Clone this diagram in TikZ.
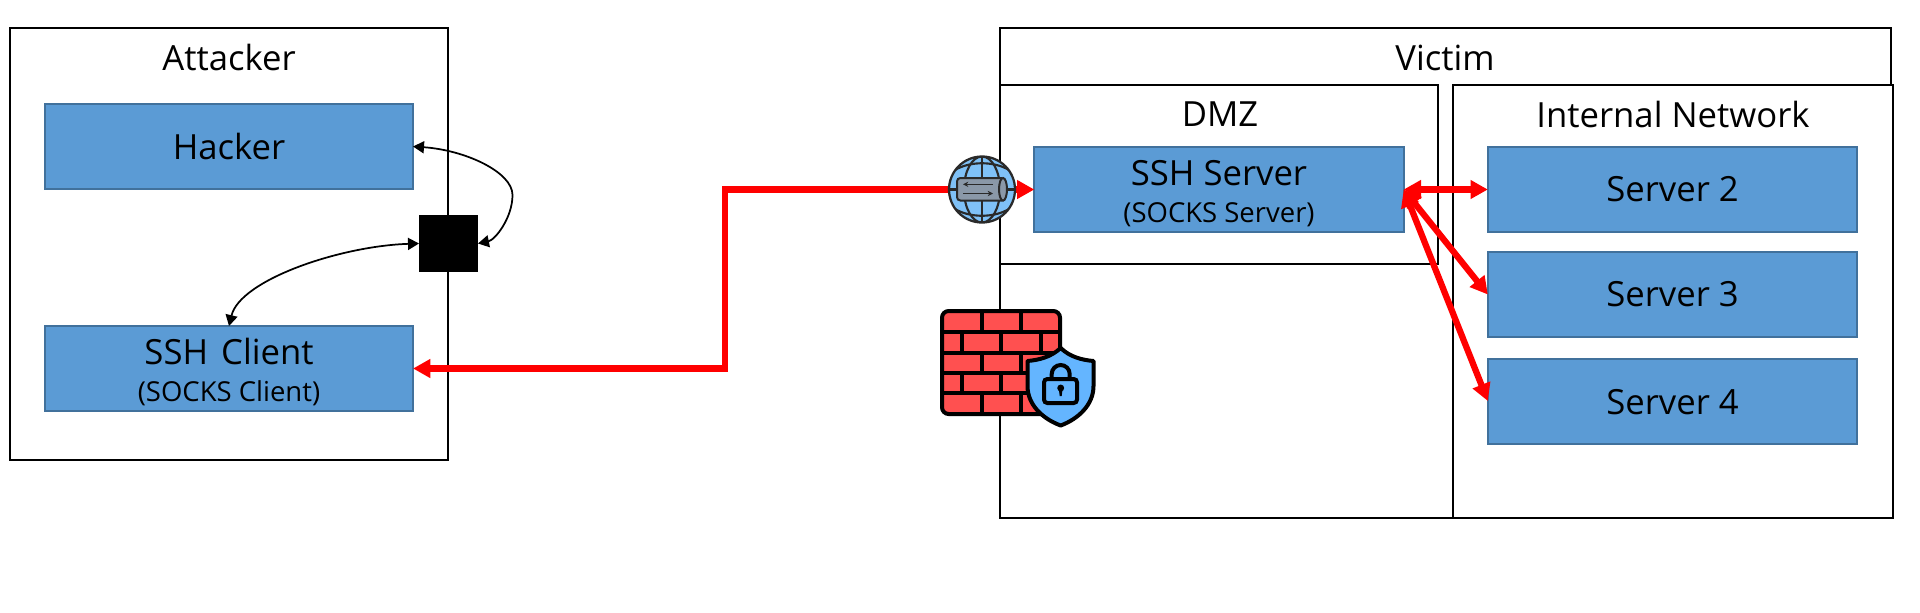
\documentclass[tikz,border=0pt]{standalone}
\usepackage{fontspec}
\setmainfont{Open Sans}
\usetikzlibrary{arrows.meta}
\definecolor{boxblue}{HTML}{5B9BD5}
\definecolor{boxline}{HTML}{41719C}
\definecolor{brick}{HTML}{FF5050}
\definecolor{shieldblue}{HTML}{64B5FF}
\definecolor{globeblue}{HTML}{7FC1F7}
\definecolor{tunnel}{HTML}{8A98A8}
\definecolor{icondark}{HTML}{2A2A2A}
\newcommand{\bigtxt}{\fontsize{26}{30}\selectfont}
\newcommand{\smalltxt}{\fontsize{20.6}{24}\selectfont}
\newcommand{\lowline}{\rule{0pt}{24.5pt}}
\newcommand{\lowsrv}{\rule{0pt}{20.6pt}}
\tikzset{
  x=0.75pt,y=-0.75pt,
  container/.style={draw=black,line width=2.2pt,fill=white,outer sep=0pt,inner sep=0pt},
  bluebox/.style={draw=boxline,line width=1.5pt,fill=boxblue,outer sep=0pt,inner sep=0pt,minimum width=277pt,minimum height=63.75pt,align=center,text=black,font=\bigtxt},
  title/.style={inner sep=0pt,font=\bigtxt,text=black},
  redlink/.style={draw=red,line width=4.7pt,{Triangle[length=13pt,width=13.5pt]}-{Triangle[length=13pt,width=13.5pt]}},
  blacklink/.style={draw=black,line width=1.3pt,{Triangle[length=8.25pt,width=9pt]}-{Triangle[length=8.25pt,width=9pt]}},
  mortar/.style={draw=black,line width=3pt},
  globeline/.style={draw=icondark,line width=1.6pt},
}
\begin{document}
\begin{tikzpicture}
\useasboundingbox (0,0) rectangle (1920,612);
\fill[white] (0,0) rectangle (1920,612);
% containers
\node[container,minimum width=328.5pt,minimum height=324pt] (attacker) at (229,244) {};
\node[container,minimum width=668.25pt,minimum height=367.5pt] (victim) at (1445.5,273) {};
\node[container,minimum width=328.5pt,minimum height=134.25pt] (dmz) at (1219,174.5) {};
\node[container,minimum width=330pt,minimum height=324.75pt] (internal) at (1673,301.5) {};
% titles
\node[title] (tattacker) at (229,57) {Attacker};
\node[title] (tvictim) at (1445,58) {Victim};
\node[title] (tdmz) at (1220,114) {DMZ};
\node[title] (tinternal) at (1673,114) {Internal Network};
% boxes
\node[bluebox,minimum width=276pt] (hacker) at (229,146.5) {Hacker};
\node[bluebox,minimum width=276pt] (client) at (229,368.5) {\lowline SSH\hspace{3pt} Client\\[-2pt]{\smalltxt (SOCKS Client)}};
\node[bluebox] (srv) at (1219,189.5) {\lowline SSH Server\\[-2pt]{\smalltxt (SOCKS Server)}};
\node[bluebox] (s2) at (1672.5,189.5) {Server 2};
\node[bluebox] (s3) at (1672.5,294.5) {Server 3};
\node[bluebox] (s4) at (1672.5,401) {\lowsrv Server 4};
\node[fill=black,inner sep=0pt,outer sep=0pt,minimum width=44.25pt,minimum height=42.75pt] (relay) at (448.5,243.5) {};
% connectors
\coordinate (bend) at (725,189.5);
\coordinate (hook) at (512.5,195);
\draw[redlink] (srv.west) -- (bend) |- (client.east);
\draw[redlink] (srv.east) -- (s2.west);
\draw[redlink] (srv.east) -- (s3.west);
\draw[redlink] (srv.east) -- (s4.west);
\draw[blacklink]
  (hacker.east) .. controls (465,150) and (512.5,172) .. (hook) .. controls (512.5,218) and (495,240) .. (relay.east);
\draw[blacklink] (relay.west) .. controls (340,246) and (240,280) .. (client.north);
% globe icon
\begin{scope}
  \fill[globeblue] (982,189.5) circle (24.75pt);
  \begin{scope}
    \clip (982,189.5) circle (24.75pt);
    \draw[globeline] (982,156) -- (982,223);
    \draw[globeline] (949,189.5) -- (1015,189.5);
    \draw[globeline] (982,189.5) ellipse (13.5pt and 24.75pt);
    \draw[globeline] (955,170) .. controls (970,161) and (994,161) .. (1009,170);
    \draw[globeline] (955,209) .. controls (970,218) and (994,218) .. (1009,209);
  \end{scope}
  \draw[draw=icondark,line width=1.7pt] (982,189.5) circle (24.75pt);
  \draw[draw=icondark,line width=1.5pt,fill=tunnel,rounded corners=2.5pt] (1002,178) -- (957,178) -- (957,200.5) -- (1002,200.5);
  \draw[draw=icondark,line width=1.5pt,fill=tunnel] (1003,189.3) ellipse (3pt and 8.5pt);
  \draw[draw=icondark,line width=1.2pt,-{Stealth[length=4pt,width=4pt]}] (993,184.3) -- (963,184.3);
  \draw[draw=icondark,line width=1.2pt,-{Stealth[length=4pt,width=4pt]}] (963,193.5) -- (993,193.5);
\end{scope}
% firewall icon
\draw[draw=black,line width=3pt,fill=brick,rounded corners=5pt] (942,311) rectangle (1060,414);
\draw[mortar] (942,331.7) -- (1060,331.7) (942,352.7) -- (1060,352.7) (942,373.3) -- (1060,373.3) (942,393.3) -- (1060,393.3);
\draw[mortar] (981.7,311) -- (981.7,331.7) (1021,311) -- (1021,331.7)
  (961.7,331.7) -- (961.7,352.7) (1001,331.7) -- (1001,352.7) (1040.7,331.7) -- (1040.7,352.7)
  (981.7,352.7) -- (981.7,373.3) (1021,352.7) -- (1021,373.3)
  (961.7,373.3) -- (961.7,393.3) (1001,373.3) -- (1001,393.3) (1040.7,373.3) -- (1040.7,393.3)
  (981.7,393.3) -- (981.7,414) (1021,393.3) -- (1021,414);
% shield
\draw[draw=black,line width=3pt,fill=shieldblue,line join=round]
  (1060.7,348) .. controls (1070,357) and (1082,360) .. (1093.5,361)
  -- (1093.5,386) .. controls (1093.5,405) and (1078,419) .. (1060.7,425.5)
  .. controls (1043,419) and (1027.5,405) .. (1027.5,386)
  -- (1027.5,361) .. controls (1039,360) and (1051,357) .. (1060.7,348) -- cycle;
\draw[draw=black,line width=3pt] (1051.7,379) -- (1051.7,374) arc[start angle=180,end angle=0,x radius=6.75pt,y radius=6.75pt] -- (1069.7,379);
\draw[draw=black,line width=3pt,fill=shieldblue,rounded corners=2.5pt] (1044,379) rectangle (1077,403);
\fill[black] (1060.7,388) circle (2.6pt);
\fill[black] (1058.7,388) -- (1062.7,388) -- (1061.7,396) -- (1059.7,396) -- cycle;
\end{tikzpicture}
\end{document}
